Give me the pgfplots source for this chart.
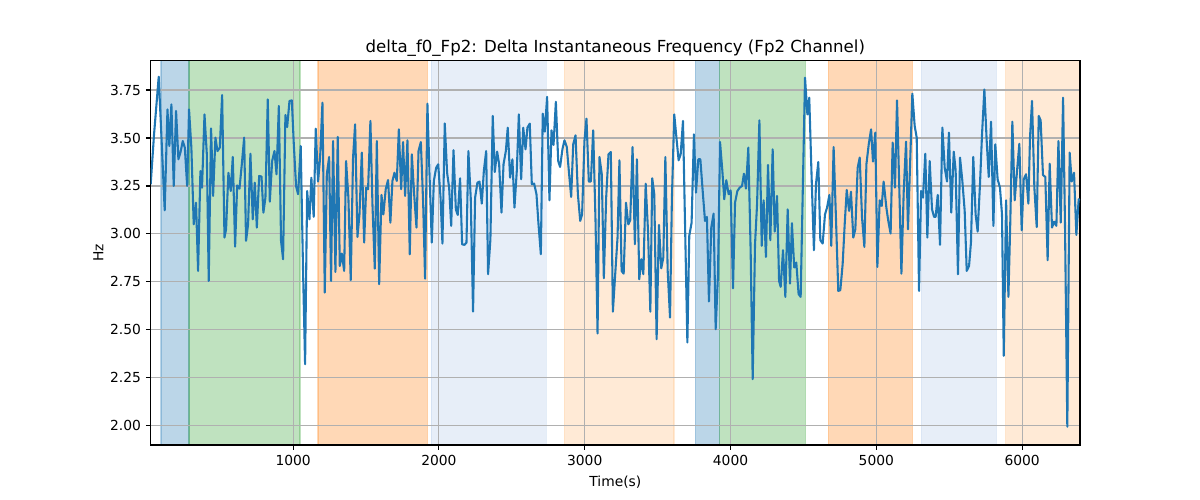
\documentclass[border=0pt]{standalone}
\usepackage{fontspec}
\setmainfont{DejaVu Sans}
\usepackage{pgfplots}
\usepackage{pgfplotstable}
\pgfplotsset{compat=1.18}
\definecolor{tabblue}{HTML}{1F77B4}
\definecolor{tabgreen}{HTML}{2CA02C}
\definecolor{taborange}{HTML}{FF7F0E}
\definecolor{tabltblue}{HTML}{AEC7E8}
\definecolor{tabltorange}{HTML}{FFBB78}
\definecolor{gridgray}{HTML}{B0B0B0}
\pgfplotstableread{
x y
23 3.259
46 3.519
78 3.819
96 3.519
119 3.123
138 3.649
151 3.458
165 3.675
181 3.250
197 3.641
213 3.389
227 3.424
243 3.484
257 3.450
273 3.250
286 3.649
302 3.450
318 3.050
334 3.163
348 2.807
364 3.328
375 3.241
392 3.623
408 3.415
421 2.755
437 3.550
451 3.198
467 3.502
481 3.432
497 3.450
513 3.724
529 2.981
540 3.024
556 3.319
572 3.224
586 3.401
602 2.934
616 3.253
632 3.236
648 3.363
664 3.502
677 2.964
691 3.050
707 3.418
723 3.076
737 3.267
751 3.033
767 3.302
783 3.299
796 3.111
810 3.189
826 3.701
840 3.168
856 3.380
872 3.432
886 3.311
902 3.667
917 2.964
931 2.868
947 3.620
959 3.557
975 3.693
991 3.696
1004 3.476
1020 3.250
1034 3.207
1052 3.458
1068 2.807
1082 2.321
1096 3.224
1112 3.076
1125 3.293
1141 3.089
1155 3.549
1171 3.273
1185 3.398
1201 3.684
1217 2.694
1231 3.311
1247 3.401
1260 2.755
1274 3.484
1290 2.802
1306 3.505
1320 2.833
1334 2.898
1350 2.807
1363 3.380
1379 3.189
1395 2.759
1411 3.398
1425 3.571
1441 2.984
1455 3.102
1471 3.424
1487 2.955
1501 3.241
1514 3.233
1530 3.589
1544 3.155
1560 2.819
1574 3.484
1590 2.738
1606 3.203
1619 3.102
1635 3.233
1651 3.281
1667 3.059
1681 3.276
1695 3.319
1711 3.276
1725 3.545
1741 3.233
1754 3.479
1768 3.198
1784 3.488
1800 2.894
1814 3.415
1830 3.207
1846 3.033
1860 3.432
1876 3.479
1892 3.155
1905 2.767
1921 3.679
1935 3.319
1951 2.955
1965 3.276
1981 3.345
1995 3.363
2011 3.189
2024 2.950
2040 3.576
2056 3.319
2070 3.241
2084 3.042
2100 3.436
2116 3.128
2129 3.099
2145 3.290
2159 2.946
2175 2.943
2189 2.955
2202 3.432
2218 3.189
2234 2.595
2248 3.189
2264 3.267
2278 3.273
2294 3.158
2308 3.328
2324 3.432
2337 2.790
2353 2.972
2369 3.615
2383 3.323
2399 3.429
2413 3.363
2429 3.111
2443 3.363
2459 3.432
2472 3.554
2488 3.293
2504 3.389
2518 3.137
2534 3.328
2548 3.623
2564 3.285
2578 3.554
2594 3.441
2607 3.554
2623 3.575
2637 3.259
2653 3.262
2669 3.207
2683 3.050
2699 2.894
2712 3.627
2726 3.533
2742 3.714
2758 3.175
2772 3.540
2786 3.464
2802 3.689
2818 3.380
2831 3.349
2847 3.441
2861 3.488
2877 3.453
2891 3.328
2907 3.193
2921 3.467
2937 3.514
2953 3.207
2969 3.068
2982 3.102
2998 3.484
3012 3.601
3028 3.273
3042 3.273
3058 3.540
3074 3.068
3088 2.481
3101 3.401
3117 3.311
3131 2.769
3147 3.189
3163 3.415
3179 3.427
3193 2.595
3209 2.790
3225 2.981
3238 3.384
3253 2.807
3267 2.793
3283 3.163
3299 3.050
3312 3.071
3328 3.453
3344 2.946
3358 3.389
3374 2.764
3388 2.868
3402 2.790
3418 3.262
3434 3.016
3450 2.595
3463 3.290
3477 3.207
3493 2.451
3509 3.047
3525 2.821
3539 2.877
3553 3.401
3569 2.807
3585 2.564
3598 3.189
3614 3.623
3630 3.493
3644 3.384
3658 3.415
3674 3.589
3688 3.050
3704 2.434
3717 2.990
3733 3.059
3749 3.519
3763 3.215
3779 3.389
3793 3.389
3809 3.224
3825 3.068
3838 3.089
3852 2.648
3868 3.033
3884 3.106
3898 2.503
3914 2.790
3928 3.479
3944 3.328
3957 3.181
3971 3.280
3987 3.207
4001 3.227
4017 2.717
4031 3.163
4047 3.224
4063 3.241
4079 3.250
4092 3.314
4106 3.236
4122 3.450
4138 2.911
4152 2.243
4168 2.946
4182 3.155
4198 3.592
4214 2.938
4227 3.175
4243 2.880
4257 3.359
4273 2.967
4289 3.441
4303 3.012
4319 3.198
4333 2.755
4344 2.724
4360 2.915
4376 2.672
4392 3.128
4408 2.741
4421 3.056
4437 2.825
4451 2.851
4467 2.686
4481 2.672
4511 3.814
4527 3.623
4540 3.710
4556 3.300
4572 2.915
4586 3.259
4602 3.375
4616 2.967
4632 2.950
4648 3.102
4662 3.137
4678 3.203
4691 2.938
4707 3.453
4723 3.085
4739 2.703
4753 2.707
4769 2.842
4783 3.050
4797 3.229
4813 3.120
4826 3.220
4842 2.981
4856 3.024
4872 3.345
4886 3.398
4902 3.085
4918 2.932
4932 3.363
4948 3.467
4964 3.545
4977 3.377
4993 3.528
5007 2.828
5023 3.175
5037 3.146
5050 3.273
5069 3.137
5082 3.068
5098 3.002
5112 3.476
5128 3.241
5142 3.696
5158 3.224
5172 2.793
5188 3.224
5204 3.481
5217 3.024
5233 3.398
5247 3.731
5263 3.563
5277 3.502
5293 2.703
5307 3.224
5320 3.189
5336 3.418
5350 2.981
5366 3.380
5382 3.128
5396 3.089
5407 3.089
5421 3.203
5437 2.943
5453 3.554
5469 3.345
5485 3.273
5498 3.528
5514 3.111
5531 3.429
5544 3.332
5560 2.790
5574 3.398
5590 3.276
5606 3.120
5620 2.807
5636 2.833
5649 2.955
5665 3.401
5681 3.102
5695 3.012
5711 3.259
5725 3.519
5741 3.753
5757 3.484
5771 3.297
5787 3.585
5803 3.042
5816 3.467
5832 3.285
5848 3.241
5862 3.102
5874 2.365
5890 3.175
5906 2.672
5919 3.068
5933 3.585
5949 3.175
5965 3.328
5981 3.470
5997 3.019
6011 3.285
6027 3.311
6043 3.158
6054 3.502
6068 3.693
6084 3.241
6100 3.036
6114 3.615
6127 3.592
6143 3.307
6159 3.297
6175 2.863
6189 3.366
6205 3.033
6219 3.064
6235 3.042
6249 3.484
6265 3.059
6281 3.710
6294 3.050
6310 1.995
6326 3.424
6340 3.273
6356 3.319
6372 2.995
6388 3.181
6397 3.175
}\datatable
\begin{document}
\begin{tikzpicture}
\path (0,0) rectangle (864bp,360bp);
\begin{axis}[
  at={(108.5bp,39.6bp)}, anchor=south west,
  scale only axis, width=669.1bp, height=277bp,
  set layers,
  xmin=23, xmax=6397, ymin=1.90, ymax=3.905,
  xtick={1000,2000,3000,4000,5000,6000},
  ytick={2,2.25,2.5,2.75,3,3.25,3.5,3.75},
  yticklabel style={/pgf/number format/.cd, fixed, fixed zerofill, precision=2},
  xticklabel style={/pgf/number format/.cd, 1000 sep={}},
  /pgf/number format/assume math mode=true,
  tick pos=left, tick align=outside,
  major tick length=3.5bp,
  every tick/.style={black, line width=0.8bp},
  axis line style={line width=0.8bp},
  grid=major,
  major grid style={gridgray, line width=0.8bp},
  ticklabel style={font=\fontsize{10}{12}\selectfont},
  title={delta\_f0\_Fp2: Delta Instantaneous Frequency (Fp2 Channel)},
  title style={font=\fontsize{12}{14}\selectfont, yshift=-6.8bp},
  xlabel={Time(s)}, ylabel={Hz},
  label style={font=\fontsize{10}{12}\selectfont},
  every axis y label/.append style={yshift=-2bp},
  every axis x label/.append style={yshift=-1bp},
  region/.style={on layer=axis background, fill=#1, fill opacity=0.3, draw=#1, draw opacity=0.3, line width=1bp},
]
\addplot[region=tabblue] coordinates {(94,1.90) (286,1.90) (286,3.905) (94,3.905) (94,1.90)};
\addplot[region=tabgreen] coordinates {(286,1.90) (1046,1.90) (1046,3.905) (286,3.905) (286,1.90)};
\addplot[region=taborange] coordinates {(1171,1.90) (1920,1.90) (1920,3.905) (1171,3.905) (1171,1.90)};
\addplot[region=tabltblue] coordinates {(1947,1.90) (2736,1.90) (2736,3.905) (1947,3.905) (1947,1.90)};
\addplot[region=tabltorange] coordinates {(2860,1.90) (3612,1.90) (3612,3.905) (2860,3.905) (2860,1.90)};
\addplot[region=tabblue] coordinates {(3758,1.90) (3925,1.90) (3925,3.905) (3758,3.905) (3758,1.90)};
\addplot[region=tabgreen] coordinates {(3925,1.90) (4513,1.90) (4513,3.905) (3925,3.905) (3925,1.90)};
\addplot[region=taborange] coordinates {(4671,1.90) (5247,1.90) (5247,3.905) (4671,3.905) (4671,1.90)};
\addplot[region=tabltblue] coordinates {(5309,1.90) (5824,1.90) (5824,3.905) (5309,3.905) (5309,1.90)};
\addplot[region=tabltorange] coordinates {(5886,1.90) (6397,1.90) (6397,3.905) (5886,3.905) (5886,1.90)};
\addplot[tabblue, line width=1.5bp, mark=none, line join=round] table[x=x, y=y] {\datatable};
\end{axis}
\end{tikzpicture}
\end{document}
